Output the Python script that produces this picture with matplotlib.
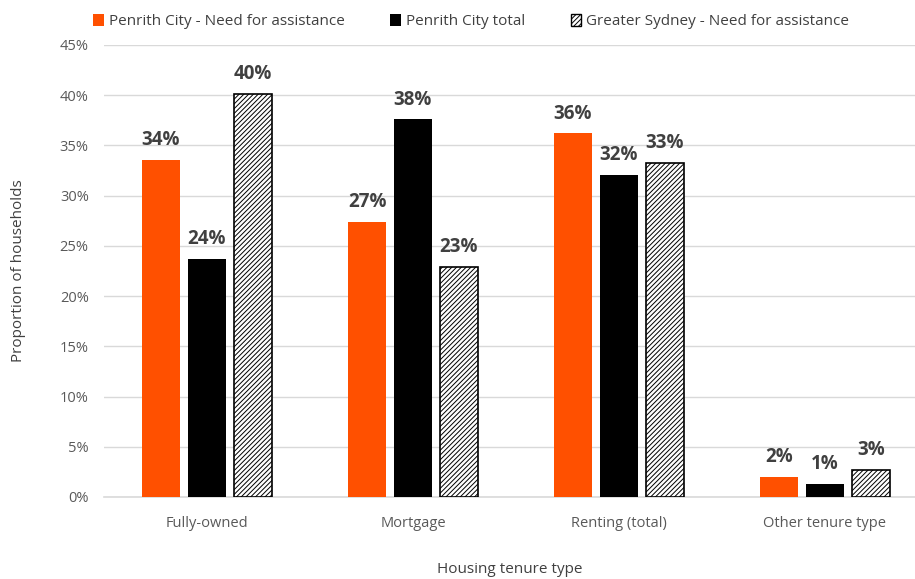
import numpy as np
import matplotlib.pyplot as plt
from matplotlib.patches import Patch

# data
categories = ["Fully-owned", "Mortgage", "Renting (total)", "Other tenure type"]
penrith_need = [33.6, 27.4, 36.2, 2.0]
penrith_total = [23.7, 37.6, 32.1, 1.3]
sydney_need = [40.1, 22.9, 33.3, 2.7]
series_names = ["Penrith City - Need for assistance", "Penrith City total",
                "Greater Sydney - Need for assistance"]

plt.rcParams['font.family'] = ['Open Sans', 'DejaVu Sans']
plt.rcParams['hatch.linewidth'] = 0.7

fig = plt.figure(figsize=(9.15, 5.79), dpi=100)
ax = fig.add_axes([104 / 915, 82 / 579, 811 / 915, 452 / 579])

x = np.arange(len(categories))
w = 0.184
off = 0.223
orange = "#FF5000"

b1 = ax.bar(x - off, penrith_need, w, color=orange, zorder=3)
b2 = ax.bar(x, penrith_total, w, color="black", zorder=3)
b3 = ax.bar(x + off, sydney_need, w, color="white", edgecolor="black",
            hatch="///////", linewidth=1.2, zorder=3)

for bars in (b1, b2, b3):
    for r in bars:
        v = r.get_height()
        ax.annotate(f"{round(v):.0f}%", (r.get_x() + r.get_width() / 2, v),
                    xytext=(0, 7), textcoords="offset points", ha="center",
                    va="bottom", fontsize=13.5, fontweight="bold", color="#404040")

ax.set_ylim(0, 45)
ax.set_xlim(-0.5, 3.437)
ax.set_yticks(np.arange(0, 46, 5))
ax.set_yticklabels([f"{t}%" for t in range(0, 46, 5)])
ax.set_xticks(x)
ax.set_xticklabels(categories)
ax.tick_params(length=0, labelsize=10.5, colors="#595959")
ax.tick_params(axis="x", pad=14)
ax.tick_params(axis="y", pad=11)
ax.grid(axis="y", color="#d9d9d9", linewidth=1, zorder=0)
for s in ("top", "right", "left"):
    ax.spines[s].set_visible(False)
ax.spines["bottom"].set_color("#d9d9d9")
ax.spines["bottom"].set_linewidth(1.2)

ax.set_ylabel("Proportion of households", fontsize=11, color="#404040")
ax.yaxis.set_label_coords(-0.096, 0.5)
ax.set_xlabel("Housing tenure type", fontsize=11, color="#404040", labelpad=22)

handles = [Patch(facecolor=orange), Patch(facecolor="black"),
           Patch(facecolor="white", edgecolor="black", hatch="///////")]
fig.legend(handles, series_names, loc="upper center", bbox_to_anchor=(0.515, 1.0),
           ncol=3, frameon=False, fontsize=11, handlelength=0.7, handleheight=0.9,
           handletextpad=0.3, columnspacing=3.0, labelcolor="#404040")

fig.savefig("out.png", dpi=100)
